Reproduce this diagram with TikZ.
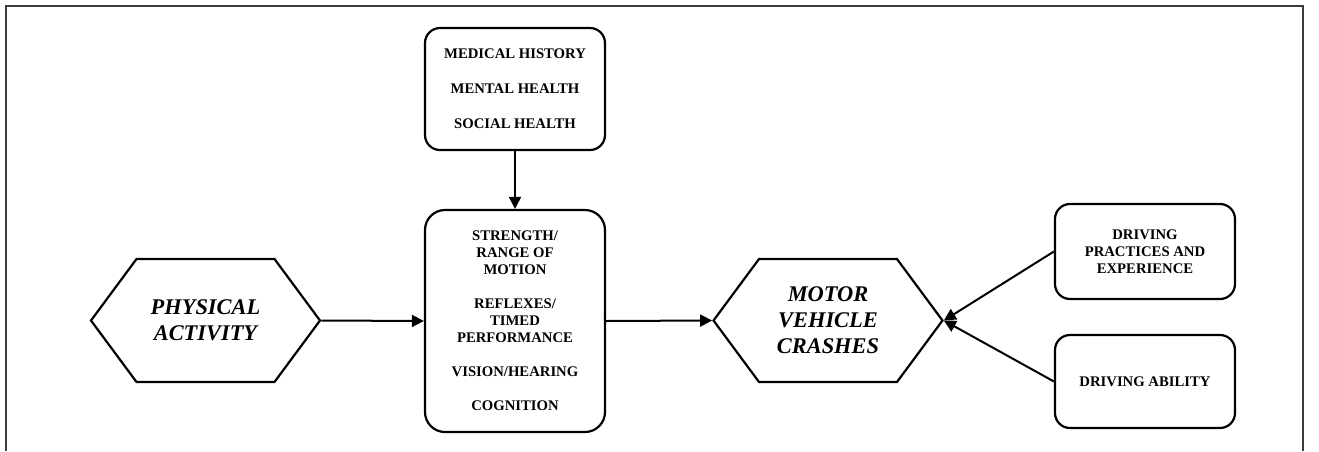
\documentclass[tikz,border=0pt]{standalone}
\usepackage{fontspec}
\setmainfont{Liberation Serif}
\usetikzlibrary{arrows.meta, shapes.symbols}
\definecolor{linecol}{RGB}{0, 0, 0}
\definecolor{edgecol}{RGB}{60, 60, 60}
\tikzset{
  pagebox/.style = {draw=edgecol, line width=0.6pt},
  blk/.style     = {draw=linecol, line width=1.1pt, rounded corners=7.5pt,
                    align=center, inner sep=2pt, minimum width=90pt,
                    font=\bfseries\fontsize{7.35}{8.5}\selectfont},
  hexa/.style    = {draw=linecol, line width=1.1pt, signal,
                    signal to=west and east, signal pointer angle=107,
                    align=center, inner sep=0pt,
                    minimum width=114.5pt, minimum height=61.5pt,
                    font=\bfseries\itshape\fontsize{11.2}{13}\selectfont},
  flow/.style    = {-{Triangle[length=6pt, width=6pt]}, draw=linecol,
                    line width=1pt},
}
\begin{document}
\begin{tikzpicture}[x=0.5pt, y=-0.5pt]

  \useasboundingbox (0,0) rectangle (1319,451);

  %% ---------------- outer frame ----------------
  \draw[pagebox] (6,451) -- (6,6) -- (1303,6) -- (1303,451);

  %% ---------------- left and middle ----------------
  \node[hexa] (act) at (205.5,320.5) {PHYSICAL\\ACTIVITY};

  \node[blk, minimum height=61pt] (hist) at (515,89)
       {MEDICAL HISTORY\\[9pt]MENTAL HEALTH\\[9pt]SOCIAL HEALTH};

  \node[blk, minimum height=111pt, rounded corners=10pt] (func) at (515,321)
       {STRENGTH/\\RANGE OF\\MOTION\\[8.5pt]
        REFLEXES/\\TIMED\\PERFORMANCE\\[8.5pt]
        VISION/HEARING\\[8.5pt]COGNITION};

  %% ---------------- outcome ----------------
  \node[hexa] (crash) at (828,320.5) {MOTOR\\VEHICLE\\CRASHES};

  \node[blk, minimum height=47.5pt] (prac) at (1145,251.5)
       {DRIVING\\PRACTICES AND\\EXPERIENCE};
  \node[blk, minimum height=46.5pt] (drab) at (1145,381.5)
       {DRIVING ABILITY};

  %% ---------------- arrows ----------------
  \draw[flow] (hist.south) -- (func.north);
  \draw[flow] (act.east) -- (func.west);
  \draw[flow] (func.east) -- (crash.west);
  \draw[flow] (prac.west) -- (crash.east);
  \draw[flow] (drab.west) -- (crash.east);

\end{tikzpicture}
\end{document}
